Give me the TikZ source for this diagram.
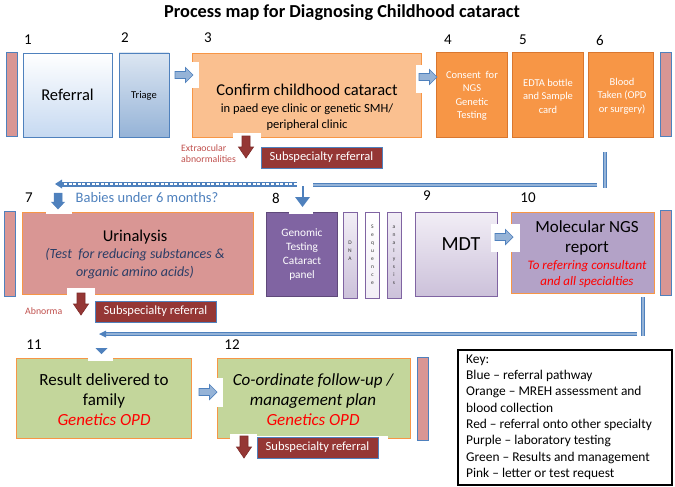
\documentclass[tikz,border=0pt]{standalone}
\usepackage{fontspec}
\setmainfont{Carlito}
\definecolor{bluebd}{HTML}{4F81BD}
\definecolor{blueL}{HTML}{C6D9F1}
\definecolor{blueM}{HTML}{95B3D7}
\definecolor{blueXL}{HTML}{DCE6F2}
\definecolor{pinkf}{HTML}{D99694}
\definecolor{orangeL}{HTML}{FAC090}
\definecolor{orangeF}{HTML}{F79646}
\definecolor{orangeBd}{HTML}{D9772F}
\definecolor{darkred}{HTML}{953735}
\definecolor{redbd}{HTML}{7F2B29}
\definecolor{purpleF}{HTML}{8064A2}
\definecolor{purpleBd}{HTML}{5F497A}
\definecolor{lavF}{HTML}{B3A2C7}
\definecolor{lavL}{HTML}{F2EEF6}
\definecolor{lavM}{HTML}{CCC1DA}
\definecolor{greenF}{HTML}{C3D69B}
\definecolor{navyT}{HTML}{2B3D66}
\definecolor{redT}{HTML}{FF0000}
\definecolor{mutedRed}{HTML}{C0504D}
\newcommand\myfs[2]{\fontsize{#1}{#2}\selectfont}
\tikzset{
  rarr/.pic={\path[pic actions] (-9,-3.5) -- (1.5,-3.5) -- (1.5,-7.5) -- (9,0) -- (1.5,7.5) -- (1.5,3.5) -- (-9,3.5) -- cycle;},
  darr/.pic={\path[pic actions] (-4,-11) -- (4,-11) -- (4,0) -- (7.5,0) -- (0,11) -- (-7.5,0) -- (-4,0) -- cycle;},
  bdarr/.pic={\path[pic actions] (-4,-8) -- (4,-8) -- (4,1) -- (6.5,1) -- (0,8) -- (-6.5,1) -- (-4,1) -- cycle;},
}
\begin{document}
\begin{tikzpicture}[x=1pt,y=-1pt,
  bx/.style={draw, line width=0.9pt, inner sep=0pt, outer sep=0pt, anchor=north west},
  pinkbar/.style={bx, fill=pinkf, draw=bluebd, minimum width=11pt, minimum height=84pt},
  orbox/.style={bx, fill=orangeF, draw=orangeBd, minimum width=71pt, minimum height=85pt},
  wtext/.style={text=white, align=center, font=\myfs{10.5}{13.5}, inner sep=0pt},
  num/.style={font=\myfs{15}{18}, inner sep=0pt},
  subsp/.style={bx, fill=darkred, draw=bluebd, line width=0.7pt, text=white, font=\myfs{12.5}{15}, minimum width=121pt, minimum height=21pt},
  bline/.style={draw=bluebd, line width=0.9pt, double=blueM, double distance=1.6pt},
  lavbar/.style={bx, top color=lavL, bottom color=lavM, draw=purpleF, line width=0.8pt, minimum width=14pt, minimum height=86pt},
  letters/.style={align=center, font=\myfs{5.5}{8}, inner sep=0pt, text=black!80},
  barrow/.style={fill=blueM, draw=bluebd, line width=0.7pt},
  rarrow/.style={fill=darkred, draw=redbd, line width=0.6pt},
  ctext/.style={align=center, inner sep=0pt},
]
\useasboundingbox (0,0) rectangle (675,487);

% title
\node[font=\bfseries\myfs{18.3}{22}] (title) at (342,13) {Process map for Diagnosing Childhood cataract};

% numbers
\node[num] (n1) at (28,40) {1};
\node[num] (n2) at (125,38) {2};
\node[num] (n3) at (208,38) {3};
\node[num] (n4) at (448,40) {4};
\node[num] (n5) at (523,40) {5};
\node[num] (n6) at (600,40) {6};
\node[num] (n7) at (29,198) {7};
\node[num] (n8) at (276,198) {8};
\node[num] (n9) at (427,196) {9};
\node[num] (n10) at (528,198) {10};
\node[num] (n11) at (34,345) {11};
\node[num] (n12) at (232,345) {12};

% ---------- row 1 ----------
\node[pinkbar] (p1) at (6,52) {};
\node[bx, draw=bluebd, top color=white, bottom color=blueL, minimum width=89pt, minimum height=84pt] (referral) at (23,53) {};
\node[font=\myfs{16.5}{19}, inner sep=0pt] (treferral) at (referral.center) {Referral};
\node[bx, draw=bluebd, top color=blueXL, bottom color=blueM, minimum width=50pt, minimum height=84pt] (triage) at (119,53) {};
\node[font=\myfs{10.5}{13}, inner sep=0pt] (ttriage) at (144,96) {Triage};
\node[bx, fill=orangeL, draw=orangeF, minimum width=229pt, minimum height=84pt] (confirm) at (192,53) {};
\node[font=\myfs{16.5}{19}, inner sep=0pt] (tconf1) at (307,90) {Confirm childhood cataract};
\node[ctext, font=\myfs{12.5}{16}] (tconf2) at (307,117) {in paed eye clinic or genetic SMH/\\peripheral clinic};

\node[orbox] (consent) at (436,52) {};
\node[wtext] (tconsent) at (472,96) {Consent\ \ for\\NGS\\Genetic\\Testing};
\node[orbox] (edta) at (512,52) {};
\node[wtext] (tedta) at (548,96) {EDTA bottle\\and Sample\\card};
\node[orbox, minimum width=65pt] (blood) at (588,52) {};
\node[wtext] (tblood) at (622,96) {Blood\\Taken (OPD\\or surgery)};
\node[pinkbar] (p2) at (660,52) {};

% white backgrounds of arrows, row 1
\fill[white] (173,62) rectangle (199,88);
\fill[white] (416,65) rectangle (435.5,93);
\fill[white] (233,133) rectangle (261,161);
\pic[barrow] (a23) at (184,75) {rarr};
\pic[barrow] (a34) at (428,77) {rarr};
\pic[rarrow] (r3) at (246,147) {darr};
\node[align=left, anchor=west, inner sep=0pt, text=mutedRed, font=\myfs{9.8}{11}] (extra) at (181,153.5) {Extraocular\\abnormalities};
\node[subsp] (sub1) at (261,147) {Subspecialty referral};

% connectors row 1 -> row 2
\coordinate (c6a) at (605,152);
\coordinate (c6b) at (605,188);
\coordinate (h1a) at (597,185);
\coordinate (h1b) at (313,185);
\draw[bline] (c6a) -- (c6b);
\draw[bline] (h1a) -- (h1b);
\coordinate (s1a) at (297,184);
\coordinate (s1b) at (61,184);
\coordinate (s1tip) at (55,184);
\fill[bluebd] (297,181.5) rectangle (61,186.5);
\draw[white, line width=1.6pt, dash pattern=on 3pt off 1.6pt] (s1a) -- (s1b);
\fill[bluebd] (s1tip) -- (62,179.5) -- (62,188.5) -- cycle;

% ---------- row 2 ----------
\node[pinkbar, minimum height=85pt] (p3) at (4,211) {};
\node[bx, fill=pinkf, draw=orangeF, minimum width=231pt, minimum height=82pt] (urin) at (22,212) {};
\node[font=\myfs{16.5}{19}, inner sep=0pt] (turin1) at (135,237) {Urinalysis};
\node[ctext, text=navyT, font=\itshape\myfs{14}{18}] (turin2) at (135,264) {(Test\ \ for reducing substances \&\\organic amino acids)};
\node[text=bluebd, font=\myfs{14.5}{17}, inner sep=0pt] (babies) at (147,198) {Babies under 6 months?};

\node[bx, fill=purpleF, draw=purpleBd, minimum width=71pt, minimum height=84pt] (genomic) at (266,212) {};
\node[wtext, font=\myfs{11.3}{14}] (tgen) at (302,255) {Genomic\\Testing\\Cataract\\panel};
\node[lavbar] (dna) at (343,212) {};
\node[letters] (tdna) at (350,251) {D\\N\\A};
\node[lavbar, top color=white, bottom color=lavL] (seq) at (365.5,212) {};
\node[letters] (tseq) at (372.5,255) {S\\e\\q\\u\\e\\n\\c\\e};
\node[lavbar] (ana) at (387,212) {};
\node[letters] (tana) at (394,255) {a\\n\\a\\l\\y\\s\\i\\s};
\node[bx, top color=lavL, bottom color=lavM, draw=purpleF, minimum width=82pt, minimum height=84pt] (mdt) at (415,212) {};
\node[font=\myfs{20}{24}, inner sep=0pt] (tmdt) at (461,244) {MDT};
\node[bx, fill=lavF, draw=orangeF, minimum width=143pt, minimum height=81pt] (report) at (511,212) {};
\node[ctext, font=\myfs{17}{20}] (trep1) at (587,238) {Molecular NGS\\report};
\node[ctext, text=redT, font=\itshape\myfs{13}{16}] (trep2) at (587,274) {To referring consultant\\and all specialties};
\node[pinkbar, minimum height=85pt] (p4) at (660,210) {};

% arrows row 2
\fill[white] (46,206) rectangle (72,214);
\pic[fill=bluebd, draw=bluebd, line width=0.5pt] (a7) at (58,201) {bdarr};
\fill[white] (289,208) rectangle (313,214);
\coordinate (d8a) at (303,186);
\coordinate (d8b) at (303,198);
\draw[bluebd, line width=2.4pt] (d8a) -- (d8b);
\fill[bluebd] (295,197) -- (310,197) -- (302.5,207) -- cycle;
\fill[white] (491,224) rectangle (520,252);
\pic[barrow] (a910) at (504,237) {rarr};
\fill[white] (67,288) rectangle (95,318);
\node[anchor=west, inner sep=0pt, text=mutedRed, font=\myfs{9.8}{11}] (abn) at (25,311) {Abnorma};
\pic[rarrow] (r7) at (81,304) {darr};
\node[subsp] (sub2) at (95,301) {Subspecialty referral};

% connectors row 2 -> row 3
\coordinate (c10a) at (643,297);
\coordinate (c10b) at (643,336);
\coordinate (h2a) at (637,334);
\coordinate (h2b) at (105,334);
\draw[bline] (c10a) -- (c10b);
\draw[bline] (h2a) -- (h2b);
\fill[bluebd] (99,334) -- (106,330.5) -- (106,337.5) -- cycle;

% ---------- row 3 ----------
\node[bx, fill=greenF, draw=orangeF, minimum width=175pt, minimum height=80pt] (result) at (16,358) {};
\node[ctext, font=\myfs{17}{20}] (tres) at (104,400) {Result delivered to\\family\\{\color{redT}\itshape Genetics OPD}};
\node[bx, fill=greenF, draw=orangeF, minimum width=193pt, minimum height=80pt] (coord) at (217,358) {};
\node[ctext, font=\itshape\myfs{17}{20}] (tcoord) at (313,400) {Co-ordinate follow-up /\\management plan\\{\color{redT}Genetics OPD}};
\node[pinkbar, minimum height=83pt] (p5) at (417,357) {};

\fill[white] (88,355) rectangle (113,361);
\fill[bluebd] (95.5,348) -- (107.5,348) -- (101.5,354) -- cycle;
\fill[white] (198,378) rectangle (223,407);
\pic[barrow] (a1112) at (208,392) {rarr};
\fill[white] (230,435.5) rectangle (388,441);
\fill[white] (230,434) rectangle (257,462);
\pic[rarrow] (r12) at (244,447) {darr};
\node[subsp] (sub3) at (257,437) {Subspecialty referral};

% key
\node[bx, draw=black, line width=1.3pt, fill=white, minimum width=214pt, minimum height=135pt] (key) at (458,350) {};
\node[anchor=north west, align=left, inner sep=0pt, font=\myfs{13.4}{16.3}] (keytext) at (466,354.5) {Key:\\Blue – referral pathway\\Orange – MREH assessment and\\blood collection\\Red – referral onto other specialty\\Purple – laboratory testing\\Green – Results and management\\Pink – letter or test request};
\end{tikzpicture}
\end{document}
